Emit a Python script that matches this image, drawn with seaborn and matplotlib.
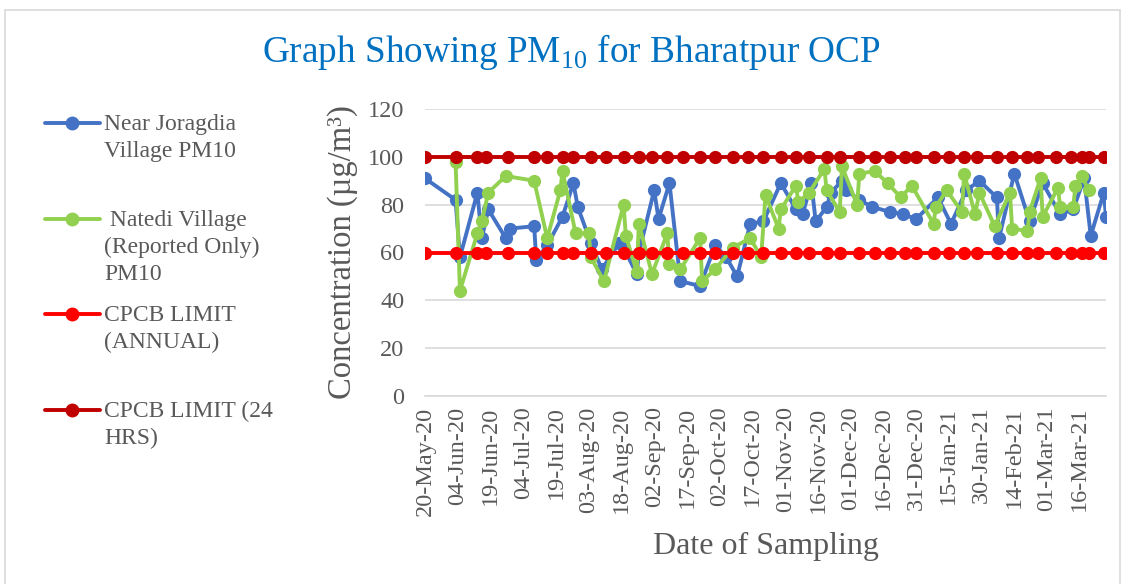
import pandas as pd
import numpy as np
import seaborn as sns
import matplotlib.pyplot as plt
from matplotlib.lines import Line2D
from matplotlib.patches import Rectangle

# sampling data
blue_dates = ["2020-05-20", "2020-06-03", "2020-06-05", "2020-06-13", "2020-06-15", "2020-06-18",
              "2020-06-26", "2020-06-28", "2020-07-09", "2020-07-10", "2020-07-15", "2020-07-22",
              "2020-07-27", "2020-07-29", "2020-08-04", "2020-08-09", "2020-08-17", "2020-08-19",
              "2020-08-25", "2020-08-26", "2020-09-02", "2020-09-04", "2020-09-09", "2020-09-14",
              "2020-09-23", "2020-09-30", "2020-10-05", "2020-10-10", "2020-10-16", "2020-10-22",
              "2020-10-30", "2020-11-06", "2020-11-09", "2020-11-13", "2020-11-15", "2020-11-20",
              "2020-11-22", "2020-11-27", "2020-11-29", "2020-12-05", "2020-12-11", "2020-12-19",
              "2020-12-25", "2020-12-31", "2021-01-10", "2021-01-16", "2021-01-23", "2021-01-29",
              "2021-02-06", "2021-02-07", "2021-02-14", "2021-02-21", "2021-02-27", "2021-03-07",
              "2021-03-13", "2021-03-18", "2021-03-21", "2021-03-27", "2021-03-28"]
blue_vals = [91, 82, 58, 85, 66, 78,
             66, 70, 71, 57, 63, 75,
             89, 79, 64, 53, 64, 62,
             51, 60, 86, 74, 89, 48,
             46, 63, 58, 50, 72, 73,
             89, 78, 76, 89, 73, 79,
             85, 90, 86, 82, 79, 77,
             76, 74, 83, 72, 86, 90,
             83, 66, 93, 73, 89, 76,
             78, 91, 67, 85, 75]

green_dates = ["2020-06-03", "2020-06-05", "2020-06-13", "2020-06-15", "2020-06-18", "2020-06-26",
               "2020-07-09", "2020-07-15", "2020-07-21", "2020-07-22", "2020-07-28", "2020-08-03",
               "2020-08-04", "2020-08-10", "2020-08-19", "2020-08-20", "2020-08-25", "2020-08-26",
               "2020-09-01", "2020-09-08", "2020-09-09", "2020-09-14", "2020-09-23", "2020-09-24",
               "2020-09-30", "2020-10-08", "2020-10-16", "2020-10-21", "2020-10-23", "2020-10-29",
               "2020-10-30", "2020-11-06", "2020-11-07", "2020-11-12", "2020-11-19", "2020-11-20",
               "2020-11-26", "2020-11-27", "2020-12-04", "2020-12-05", "2020-12-12", "2020-12-18",
               "2020-12-24", "2020-12-29", "2021-01-08", "2021-01-09", "2021-01-14", "2021-01-21",
               "2021-01-22", "2021-01-27", "2021-01-29", "2021-02-05", "2021-02-12", "2021-02-13",
               "2021-02-20", "2021-02-21", "2021-02-26", "2021-02-27", "2021-03-06", "2021-03-07",
               "2021-03-13", "2021-03-14", "2021-03-17", "2021-03-20"]
green_vals = [98, 44, 68, 73, 85, 92,
              90, 66, 86, 94, 68, 68,
              58, 48, 80, 67, 52, 72,
              51, 68, 55, 53, 66, 48,
              53, 62, 66, 58, 84, 70,
              78, 88, 81, 85, 95, 86,
              77, 96, 80, 93, 94, 89,
              83, 88, 72, 79, 86, 77,
              93, 76, 85, 71, 85, 70,
              69, 77, 91, 75, 87, 79,
              79, 88, 92, 86]

limit_dates = ["2020-05-20", "2020-06-03", "2020-06-13", "2020-06-17", "2020-06-27", "2020-07-09",
               "2020-07-15", "2020-07-22", "2020-07-27", "2020-08-04", "2020-08-11", "2020-08-19",
               "2020-08-26", "2020-09-01", "2020-09-08", "2020-09-15", "2020-09-23", "2020-09-30",
               "2020-10-08", "2020-10-15", "2020-10-22", "2020-10-30", "2020-11-06", "2020-11-12",
               "2020-11-20", "2020-11-26", "2020-12-05", "2020-12-12", "2020-12-19", "2020-12-26",
               "2020-12-31", "2021-01-08", "2021-01-15", "2021-01-22", "2021-01-28", "2021-02-06",
               "2021-02-13", "2021-02-20", "2021-02-25", "2021-03-05", "2021-03-12", "2021-03-17",
               "2021-03-20", "2021-03-27"]
annual_limit = 60
daily_limit = 100

series_names = ["Near Joragdia Village PM10", " Natedi Village (Reported Only) PM10",
                "CPCB LIMIT (ANNUAL)", "CPCB LIMIT (24 HRS)"]
legend_texts = ["Near Joragdia\nVillage PM10", " Natedi Village\n(Reported Only)\nPM10",
                "CPCB LIMIT\n(ANNUAL)", "CPCB LIMIT (24\nHRS)"]
colors = ["#4472C4", "#92D050", "#FF0000", "#C00000"]

# long table for seaborn
frames = [
    pd.DataFrame({"date": blue_dates, "value": blue_vals, "series": series_names[0]}),
    pd.DataFrame({"date": green_dates, "value": green_vals, "series": series_names[1]}),
    pd.DataFrame({"date": limit_dates, "value": annual_limit, "series": series_names[2]}),
    pd.DataFrame({"date": limit_dates, "value": daily_limit, "series": series_names[3]}),
]
df = pd.concat(frames, ignore_index=True)
df["date"] = pd.to_datetime(df["date"])

sns.set_style("white")
plt.rcParams["font.family"] = ["Liberation Serif", "DejaVu Serif"]
plt.rcParams["mathtext.fontset"] = "custom"
plt.rcParams["mathtext.rm"] = "Liberation Serif"

W, H = 1127, 584
fig = plt.figure(figsize=(W / 100, H / 100), dpi=100)
ax = fig.add_axes([425 / W, 1 - 396 / H, (1106 - 425) / W, (396 - 109) / H])

grey = "#595959"
sns.lineplot(data=df, x="date", y="value", hue="series", hue_order=series_names,
             palette=colors, marker="o", markersize=9.5, markeredgewidth=0,
             linewidth=2.8, estimator=None, legend=False, ax=ax)

start = pd.Timestamp("2020-05-20")
end = pd.Timestamp("2021-03-28")
ax.set_xlim(start, end)
ax.set_ylim(0, 120)
ax.set_yticks(np.arange(0, 121, 20))
ax.yaxis.grid(True, color="#d9d9d9", linewidth=1.2)
ax.set_axisbelow(True)

ticks = pd.date_range(start, end, freq="15D")
ax.set_xticks(ticks)
ax.set_xticklabels([t.strftime("%d-%b-%y") for t in ticks], rotation=90)

for s in ["top", "right", "left"]:
    ax.spines[s].set_visible(False)
ax.spines["bottom"].set_color("#d9d9d9")
ax.spines["bottom"].set_linewidth(1.2)
ax.tick_params(axis="x", length=4.5, width=1.2, color="#d9d9d9", pad=3,
               labelsize=17.5, labelcolor=grey)
ax.tick_params(axis="y", length=0, pad=15, labelsize=17.5, labelcolor=grey)

ax.set_xlabel("Date of Sampling", fontsize=23, color=grey, labelpad=12)
ax.set_ylabel("Concentration (µg/m³)", fontsize=23.5, color=grey, labelpad=7)

fig.text(0.507, 1 - 52 / H, r"Graph Showing PM$_{\mathrm{10}}$ for Bharatpur OCP",
         ha="center", va="center", fontsize=26.8, color="#0070C0")

# legend on the left, built by hand so each handle sits on the first text line
handle_y = [123, 219, 314, 410]
for txt, col, y in zip(legend_texts, colors, handle_y):
    fig.add_artist(Line2D(np.array([45, 72, 100]) / W, [1 - y / H] * 3,
                          transform=fig.transFigure, color=col, linewidth=2.8,
                          marker="o", markersize=10, markeredgewidth=0, markevery=[1]))
    fig.text(104 / W, 1 - (y - 9) / H, txt, ha="left", va="top", fontsize=17,
             color=grey, linespacing=1.36)

fig.add_artist(Rectangle((5 / W, -0.05), 1115 / W, 1 - 10 / H + 0.05,
                         transform=fig.transFigure, fill=False,
                         edgecolor="#d9d9d9", linewidth=1.2))

fig.savefig("out.png", dpi=100)
